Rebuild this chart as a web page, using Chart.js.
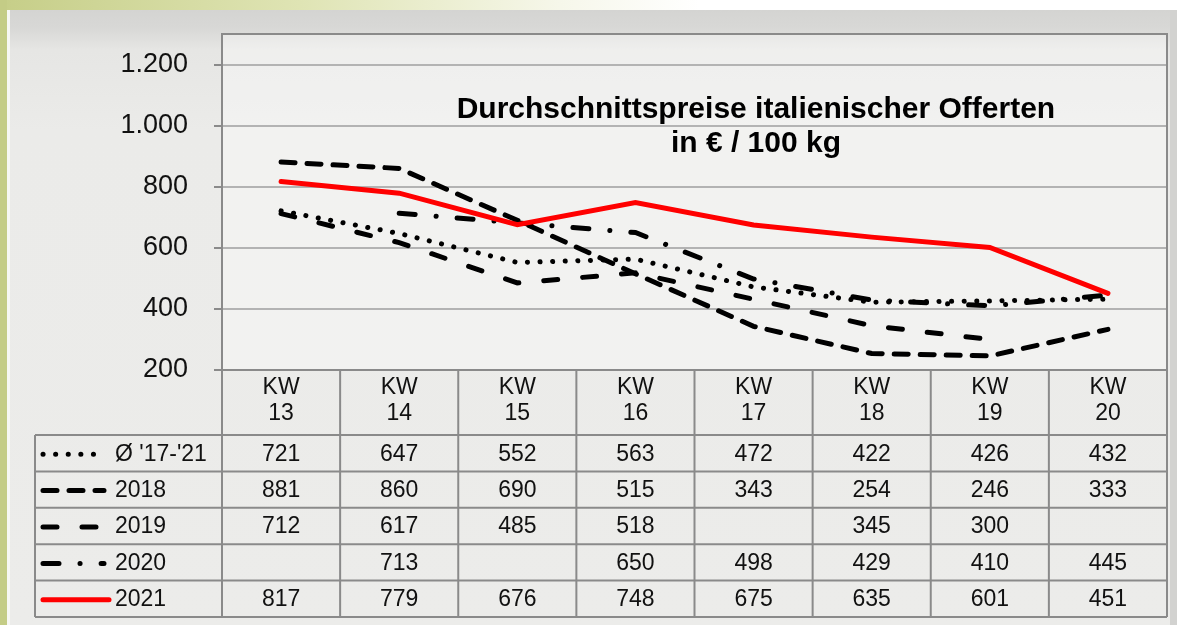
<!DOCTYPE html>
<html>
<head>
<meta charset="utf-8">
<script src="https://cdn.jsdelivr.net/npm/chart.js@4"></script>
<style>
  html, body { margin: 0; padding: 0; }
  body {
    width: 1183px; height: 625px; position: relative; overflow: hidden;
    background: linear-gradient(to right, #c6ce88 0px, #dfe4b4 300px, #f6f7ea 560px, #ffffff 700px);
  }
  #strip { position: absolute; left: 0; top: 0; width: 7px; height: 625px; background: #c4cc86; }
  #panel {
    position: absolute; left: 7px; top: 10px; width: 1170px; height: 615px;
    background: linear-gradient(to bottom, #d4d4d2 0px, #d8d8d6 18px, #e6e6e4 40px, #ebebe9 120px, #ececea 625px);
    border-left: 3px solid #f7f7f4; box-sizing: border-box;
  }
  #panel::after { content: ''; position: absolute; right: 0; top: 0; width: 7px; height: 100%; background: #d2d2d0; }
  canvas { position: absolute; left: 0; top: 0; }
</style>
</head>
<body>
<div id="strip"></div>
<div id="panel"></div>
<canvas id="myChart" width="1183" height="625"></canvas>
<script>
// data
const weeks = ['13', '14', '15', '16', '17', '18', '19', '20'];
const seriesNames = ["Ø '17-'21", '2018', '2019', '2020', '2021'];
const avg1721 = [721, 647, 552, 563, 472, 422, 426, 432];
const y2018 = [881, 860, 690, 515, 343, 254, 246, 333];
const y2019 = [712, 617, 485, 518, null, 345, 300, null];
const y2020 = [null, 713, null, 650, 498, 429, 410, 445];
const y2021 = [817, 779, 676, 748, 675, 635, 601, 451];
const yTicks = [200, 400, 600, 800, 1000, 1200];
const titleLines = ['Durchschnittspreise italienischer Offerten', 'in € / 100 kg'];

const FONT = "'Liberation Sans', Arial, sans-serif";
const gridColor = '#8a8a8a';

function fmt(v) {
    // german thousands separator
    return v >= 1000 ? Math.floor(v / 1000) + '.' + String(v % 1000).padStart(3, '0') : String(v);
}

const tablePlugin = {
    id: 'tablePlugin',
    beforeDatasetsDraw(chart) {
        const { ctx, chartArea: a } = chart;
        ctx.save();
        ctx.fillStyle = 'rgba(255,255,255,0.35)';
        ctx.fillRect(a.left, a.top, a.width, a.height);
        ctx.restore();
    },
    afterDraw(chart) {
        const { ctx, chartArea: a } = chart;
        const x = chart.scales.x;
        const colW = a.width / weeks.length;
        ctx.save();

        // plot border
        ctx.strokeStyle = gridColor;
        ctx.lineWidth = 2;
        ctx.strokeRect(a.left, a.top, a.width, a.height);

        // title
        ctx.fillStyle = '#000';
        ctx.font = 'bold 30px ' + FONT;
        ctx.textAlign = 'center';
        ctx.textBaseline = 'middle';
        const tx = a.left + a.width * 0.565;
        ctx.fillText(titleLines[0], tx, a.top + 76);
        ctx.fillText(titleLines[1], tx, a.top + 110);

        // table
        const headTop = a.bottom;
        const rowTop = a.bottom + 65;
        const rowH = 36.4;
        const tableBottom = rowTop + rowH * seriesNames.length;
        const legLeft = 35;

        ctx.beginPath();
        for (let i = 0; i <= weeks.length; i++) {
            const px = a.left + colW * i;
            ctx.moveTo(px, headTop);
            ctx.lineTo(px, tableBottom);
        }
        ctx.moveTo(legLeft, rowTop);
        ctx.lineTo(legLeft, tableBottom);
        for (let r = 0; r <= seriesNames.length; r++) {
            const py = rowTop + rowH * r;
            ctx.moveTo(legLeft, py);
            ctx.lineTo(a.right, py);
        }
        ctx.stroke();

        ctx.fillStyle = '#111';
        ctx.font = '23px ' + FONT;
        weeks.forEach((w, i) => {
            const cx = x.getPixelForValue(i);
            ctx.fillText('KW', cx, headTop + 18);
            ctx.fillText(w, cx, headTop + 44);
        });

        chart.data.datasets.forEach((ds, r) => {
            const cy = rowTop + rowH * r + rowH / 2 + 1;
            ds.data.forEach((v, i) => {
                if (v === null) return;
                ctx.fillStyle = '#111';
                ctx.textAlign = 'center';
                ctx.fillText(String(v), x.getPixelForValue(i), cy);
            });
            // legend key
            ctx.beginPath();
            ctx.strokeStyle = ds.borderColor;
            ctx.lineWidth = ds.borderWidth;
            ctx.lineCap = 'round';
            ctx.setLineDash(ds.borderDash || []);
            ctx.moveTo(43, cy);
            ctx.lineTo(ds.borderDash ? 104 : 109, cy);
            ctx.stroke();
            ctx.setLineDash([]);
            ctx.fillStyle = '#111';
            ctx.textAlign = 'left';
            ctx.fillText(ds.label, 115, cy);
        });
        ctx.restore();
    }
};

const ctx = document.getElementById('myChart').getContext('2d');
const myChart = new Chart(ctx, {
    type: 'line',
    data: {
        labels: weeks.map(w => 'KW ' + w),
        datasets: [{
            label: seriesNames[0],
            data: avg1721,
            borderColor: '#000',
            borderWidth: 5,
            borderDash: [0.1, 12.5],
            borderCapStyle: 'round',
            order: 4
        }, {
            label: seriesNames[1],
            data: y2018,
            borderColor: '#000',
            borderWidth: 5,
            borderDash: [14, 12],
            borderCapStyle: 'round',
            order: 3
        }, {
            label: seriesNames[2],
            data: y2019,
            borderColor: '#000',
            borderWidth: 5,
            borderDash: [14, 25],
            borderCapStyle: 'round',
            order: 2
        }, {
            label: seriesNames[3],
            data: y2020,
            borderColor: '#000',
            borderWidth: 5,
            borderDash: [16, 21, 0.1, 21],
            borderCapStyle: 'round',
            order: 1
        }, {
            label: seriesNames[4],
            data: y2021,
            borderColor: '#ff0000',
            borderWidth: 5,
            borderCapStyle: 'round',
            order: 0
        }]
    },
    options: {
        responsive: false,
        animation: false,
        spanGaps: true,
        layout: {
            padding: { top: 34, right: 16, bottom: 255, left: 0 }
        },
        elements: {
            point: { radius: 0, hoverRadius: 0 },
            line: { tension: 0 }
        },
        scales: {
            x: {
                display: false,
                offset: true
            },
            y: {
                min: 200,
                max: 1300,
                afterBuildTicks: s => { s.ticks = yTicks.map(v => ({ value: v })); },
                afterFit: s => { s.width = 222; s.paddingTop = 0; s.paddingBottom = 0; },
                ticks: {
                    padding: 26,
                    color: '#111',
                    font: { family: FONT, size: 27 },
                    callback: v => fmt(v)
                },
                grid: {
                    color: gridColor,
                    lineWidth: 2,
                    tickLength: 8
                },
                border: { display: false }
            }
        },
        plugins: {
            legend: { display: false },
            title: { display: false },
            tooltip: { enabled: false }
        }
    },
    plugins: [tablePlugin]
});
</script>
</body>
</html>
